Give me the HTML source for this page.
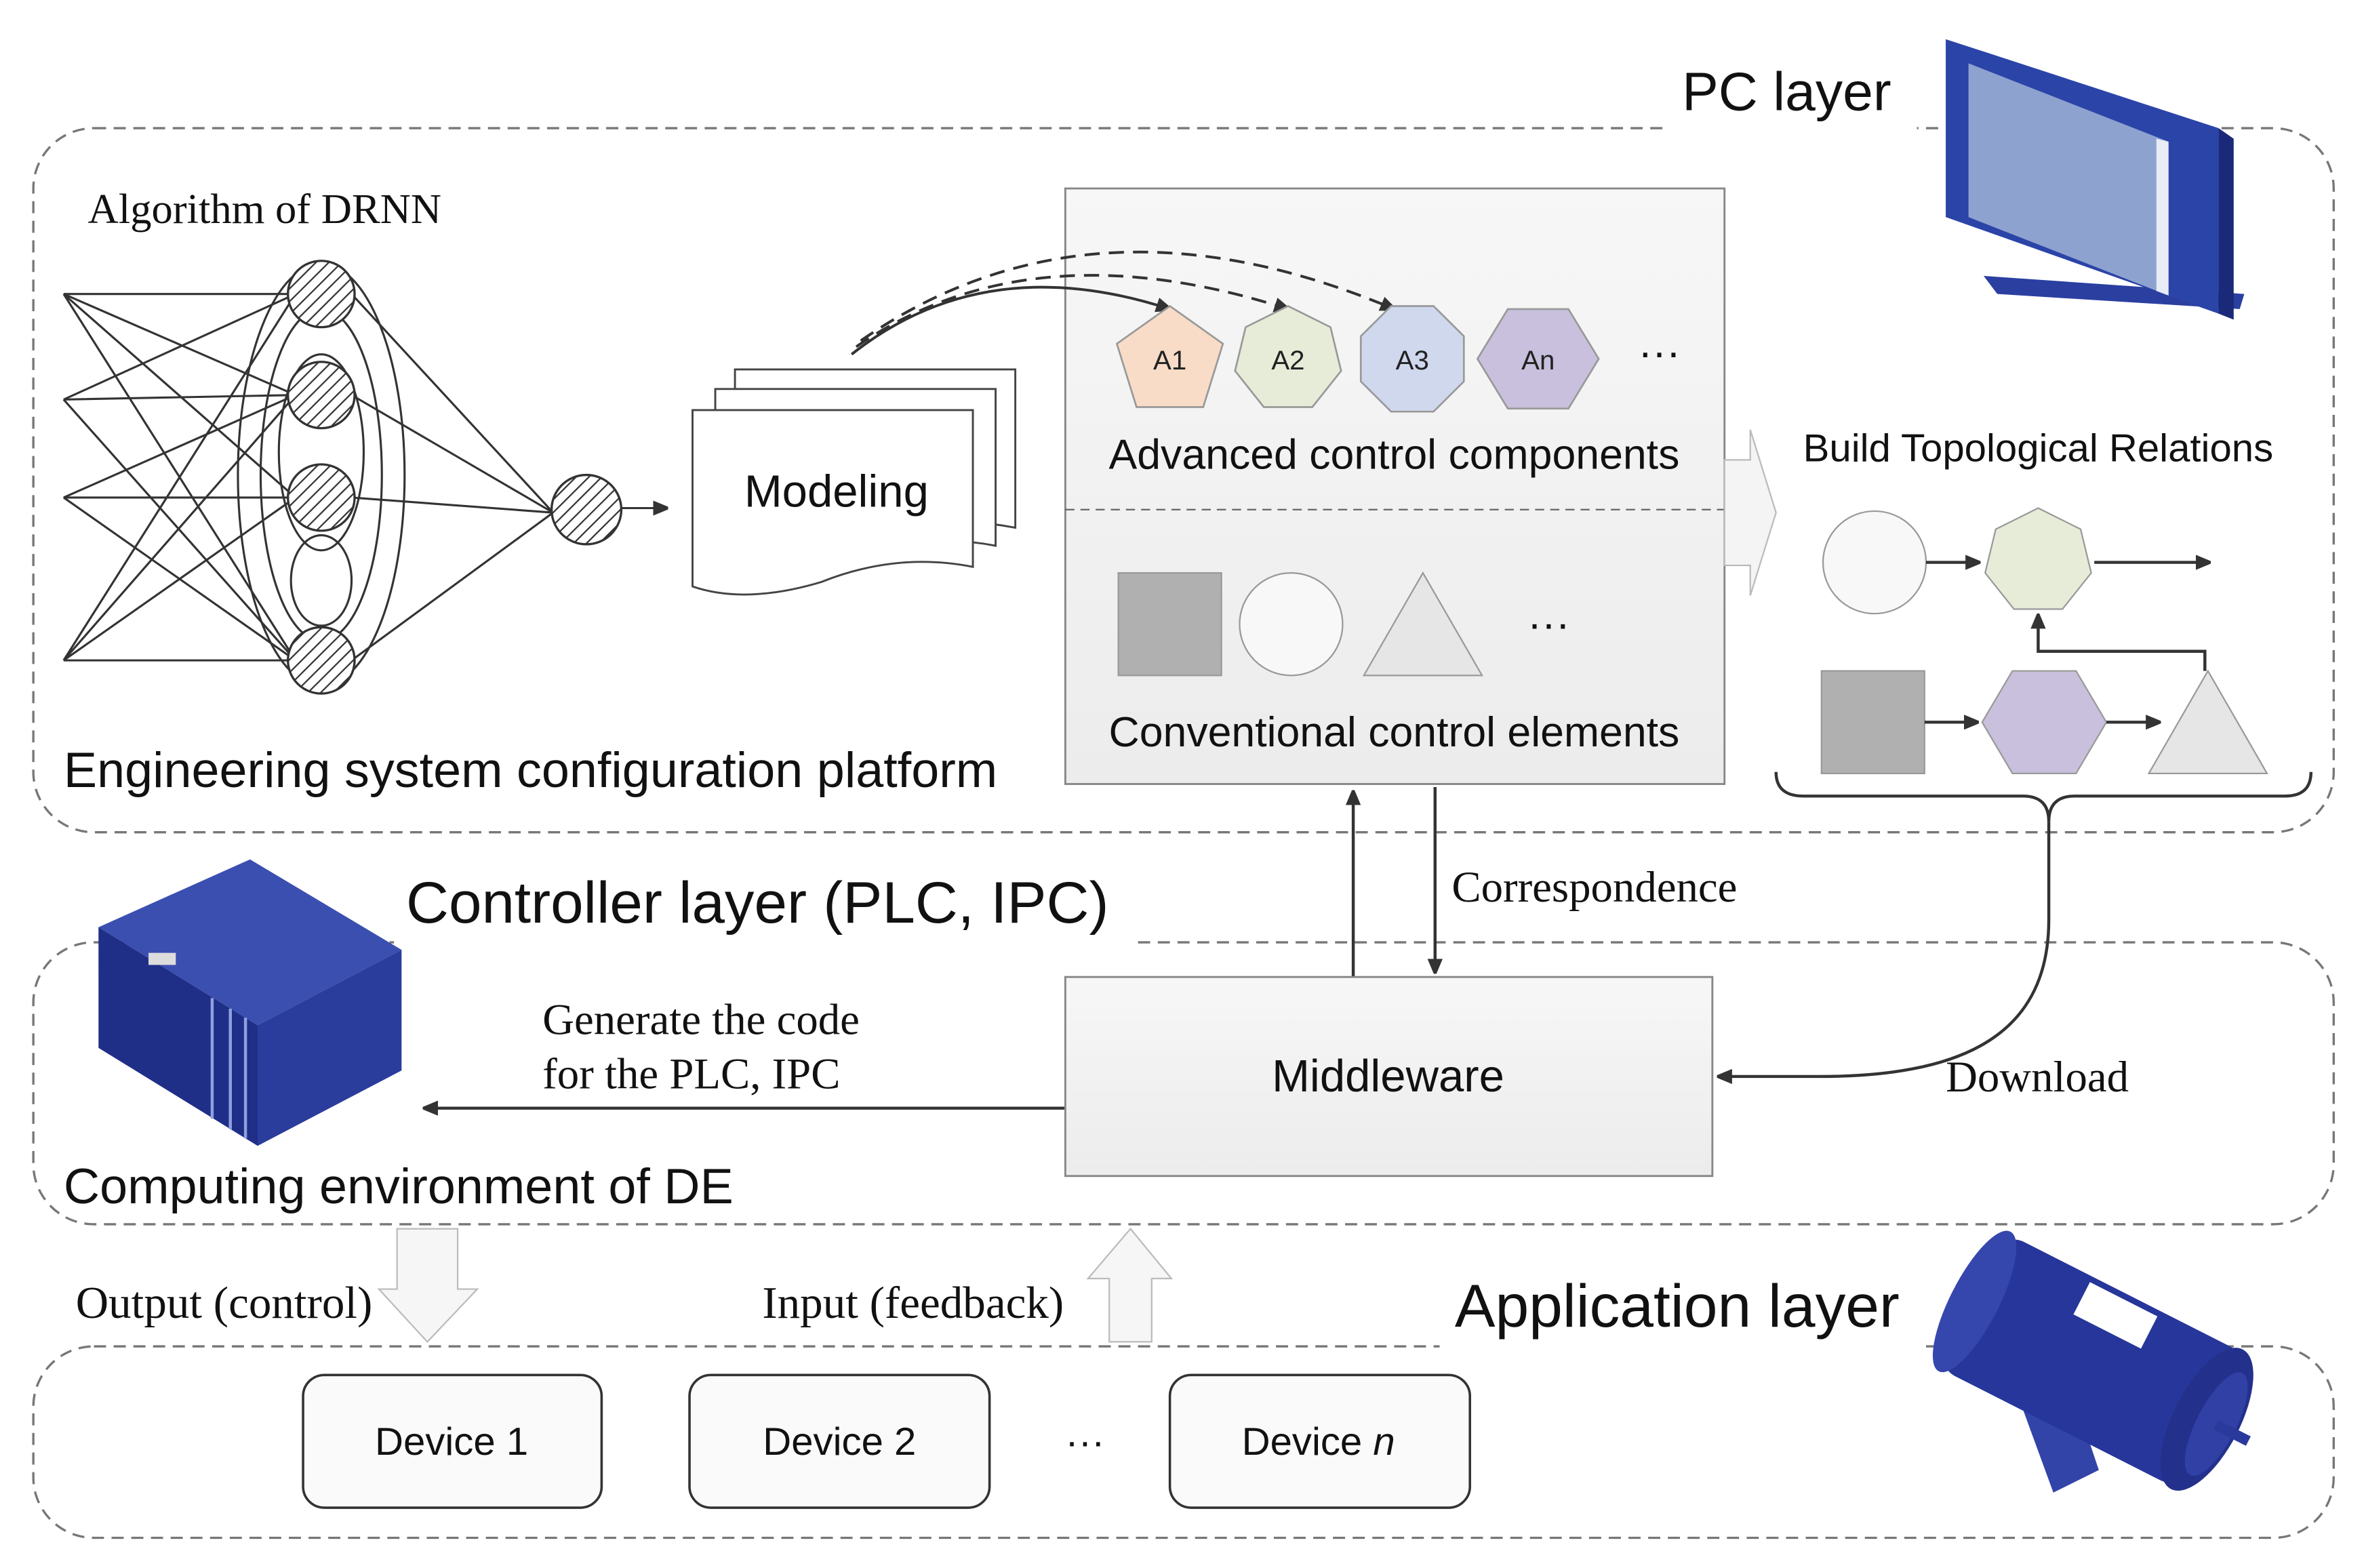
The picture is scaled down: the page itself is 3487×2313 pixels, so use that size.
<!DOCTYPE html>
<html><head><meta charset="utf-8"><style>
html,body{margin:0;padding:0;background:#fff}
svg{display:block}
.sans{font-family:"Liberation Sans","DejaVu Sans",sans-serif}
.serif{font-family:"Liberation Serif",serif}
</style></head><body>
<svg width="3487" height="2313" viewBox="0 0 1560 1040" preserveAspectRatio="none" xmlns="http://www.w3.org/2000/svg">
<defs>
<marker id="ah" markerWidth="10" markerHeight="10" refX="9" refY="5" orient="auto" markerUnits="userSpaceOnUse"><path d="M0,0 L12,5 L0,10 z" fill="#333"/></marker>
<pattern id="hatch" width="6" height="6" patternUnits="userSpaceOnUse" patternTransform="rotate(45)"><rect width="6" height="6" fill="#fff"/><line x1="0" y1="0" x2="0" y2="6" stroke="#333" stroke-width="2"/></pattern>
<linearGradient id="gbox" x1="0" y1="0" x2="0" y2="1"><stop offset="0" stop-color="#f7f7f7"/><stop offset="1" stop-color="#ececec"/></linearGradient>
</defs>
<rect width="1560" height="1040" fill="#fff"/>
<!-- layers -->
<rect x="22" y="85" width="1518" height="467" rx="40" fill="none" stroke="#777" stroke-width="1.5" stroke-dasharray="8,5"/>
<rect x="22" y="625" width="1518" height="187" rx="40" fill="none" stroke="#777" stroke-width="1.5" stroke-dasharray="8,5"/>
<rect x="22" y="893" width="1518" height="127" rx="40" fill="none" stroke="#777" stroke-width="1.5" stroke-dasharray="8,5"/>
<rect x="1100" y="40" width="165" height="50" fill="#fff"/>
<text x="1110" y="73" class="sans" font-size="36" fill="#111">PC layer</text>
<rect x="260" y="575" width="490" height="55" fill="#fff"/>
<text x="268" y="612" class="sans" font-size="39" fill="#111">Controller  layer (PLC, IPC)</text>
<rect x="950" y="845" width="320" height="55" fill="#fff"/>
<text x="960" y="880" class="sans" font-size="40" fill="#111">Application layer</text>

<!-- monitor -->
<g>
<polygon points="1309,183 1481,195 1478,205 1318,195" fill="#2a3fa0"/>
<polygon points="1284,26 1464,85 1464,208 1284,144" fill="#2b44a8"/>
<polygon points="1464,85 1474,92 1474,212 1464,208" fill="#1a2a78"/>
<polygon points="1299,42 1431,94 1431,196 1299,144" fill="#8ea2cf"/>
<polygon points="1423,92 1431,94 1431,196 1423,193" fill="#e8ecf6"/>
</g>

<!-- DRNN -->
<text x="58" y="148" class="serif" font-size="28" fill="#111">Algorithm of DRNN</text>
<g stroke="#333" stroke-width="1.4" fill="none">
<path d="M42,195 L195,195 M42,265 L195,262 M42,330 L195,330 M42,438 L195,438"/>
<path d="M42,195 L195,262 M42,195 L195,330 M42,265 L195,195 M42,265 L195,438 M42,330 L195,262 M42,330 L195,438 M42,438 L195,330 M42,438 L195,262 M42,195 L195,438 M42,438 L195,195"/>
<ellipse cx="212" cy="315" rx="55" ry="140"/>
<ellipse cx="212" cy="315" rx="40" ry="110"/>
<ellipse cx="212" cy="300" rx="28" ry="65"/>
<ellipse cx="212" cy="385" rx="20" ry="30"/>
<path d="M232,195 L365,340 M232,262 L365,340 M232,330 L365,340 M232,438 L365,340"/>
<path d="M410,337 L440,337" marker-end="url(#ah)"/>
</g>
<g stroke="#333" stroke-width="1.5" fill="url(#hatch)">
<circle cx="212" cy="195" r="22"/><circle cx="212" cy="262" r="22"/><circle cx="212" cy="330" r="22"/><circle cx="212" cy="438" r="22"/><circle cx="387" cy="338" r="23"/>
</g>
<text x="42" y="522" class="sans" font-size="33" fill="#111">Engineering system configuration platform</text>

<!-- Modeling -->
<g stroke="#444" stroke-width="1.3" fill="#fff">
<path d="M485,245 L670,245 L670,350 Q620,340 570,360 Q520,375 485,362 z"/>
<path d="M472,258 L657,258 L657,362 Q607,352 557,372 Q507,387 472,375 z"/>
<path d="M457,272 L642,272 L642,376 Q592,366 542,386 Q492,401 457,389 z"/>
</g>
<text x="552" y="336" class="sans" font-size="30" text-anchor="middle" fill="#111">Modeling</text>

<!-- components box -->
<rect x="703" y="125" width="435" height="395" fill="url(#gbox)" stroke="#888" stroke-width="1.3"/>
<line x1="703" y1="338" x2="1138" y2="338" stroke="#666" stroke-dasharray="6,4"/>
<g stroke="#333" stroke-width="1.8" fill="none">
<path d="M562,235 Q650,165 772,205" marker-end="url(#ah)"/>
<path d="M565,230 Q680,150 850,205" stroke-dasharray="10,6" marker-end="url(#ah)"/>
<path d="M568,226 Q720,120 920,205" stroke-dasharray="10,6" marker-end="url(#ah)"/>
</g>
<g stroke="#999" stroke-width="1.2">
<polygon points="772,203 807,228 794,270 750,270 737,228" fill="#f8dcc8"/>
<polygon points="850,203 878,217 885,246 866,270 834,270 815,246 822,217" fill="#e6ecd8"/>
<polygon points="918,203 946,203 966,223 966,253 946,273 918,273 898,253 898,223" fill="#d0d8ee"/>
<polygon points="995,205 1035,205 1055,238 1035,271 995,271 975,238" fill="#c8c0dc"/>
</g>
<g class="sans" font-size="18" text-anchor="middle" fill="#222">
<text x="772" y="245">A1</text><text x="850" y="245">A2</text><text x="932" y="245">A3</text><text x="1015" y="245">An</text>
</g>
<text x="1095" y="243" class="sans" font-size="28" text-anchor="middle" fill="#111">···</text>
<text x="920" y="311" class="sans" font-size="28" text-anchor="middle" fill="#111">Advanced control components</text>
<rect x="738" y="380" width="68" height="68" fill="#b0b0b0" stroke="#999"/>
<circle cx="852" cy="414" r="34" fill="#f8f8f8" stroke="#999"/>
<polygon points="939,380 978,448 900,448" fill="#e6e6e6" stroke="#999"/>
<text x="1022" y="423" class="sans" font-size="28" text-anchor="middle" fill="#111">···</text>
<text x="920" y="495" class="sans" font-size="28" text-anchor="middle" fill="#111">Conventional control elements</text>

<!-- big hollow arrow right -->
<polygon points="1138,305 1155,305 1155,285 1172,340 1155,395 1155,375 1138,375" fill="#f4f4f4" stroke="#bbb"/>

<!-- topology -->
<text x="1345" y="306" class="sans" font-size="26" text-anchor="middle" fill="#111">Build Topological Relations</text>
<circle cx="1237" cy="373" r="34" fill="#f8f8f8" stroke="#999"/>
<polygon points="1345,337 1373,351 1380,380 1361,404 1329,404 1310,380 1317,351" fill="#e6ecd8" stroke="#999"/>
<rect x="1202" y="445" width="68" height="68" fill="#b0b0b0" stroke="#999"/>
<polygon points="1328,445 1370,445 1390,479 1370,513 1328,513 1308,479" fill="#c8c0dc" stroke="#999"/>
<polygon points="1457,445 1496,513 1418,513" fill="#e6e6e6" stroke="#999"/>
<g stroke="#333" stroke-width="2" fill="none">
<path d="M1271,373 L1306,373" marker-end="url(#ah)"/>
<path d="M1382,373 L1458,373" marker-end="url(#ah)"/>
<path d="M1270,479 L1305,479" marker-end="url(#ah)"/>
<path d="M1390,479 L1425,479" marker-end="url(#ah)"/>
<path d="M1455,445 L1455,432 L1345,432 L1345,408" marker-end="url(#ah)"/>
<path d="M1172,512 Q1172,528 1190,528 L1335,528 Q1352,528 1352,545 Q1352,528 1369,528 L1508,528 Q1525,528 1525,512"/>
<path d="M1352,545 L1352,610 C1352,690 1290,714 1200,714 L1134,714" marker-end="url(#ah)"/>
<path d="M893,648 L893,525" marker-end="url(#ah)"/>
<path d="M947,522 L947,645" marker-end="url(#ah)"/>
<path d="M703,735 L280,735" marker-end="url(#ah)"/>
</g>
<text x="958" y="598" class="serif" font-size="29" fill="#111">Correspondence</text>
<text x="1284" y="724" class="serif" font-size="29" fill="#111">Download</text>
<text x="358" y="686" class="serif" font-size="29" fill="#111">Generate the code</text>
<text x="358" y="722" class="serif" font-size="29" fill="#111">for the PLC, IPC</text>

<!-- middleware -->
<rect x="703" y="648" width="427" height="132" fill="url(#gbox)" stroke="#888" stroke-width="1.3"/>
<text x="916" y="724" class="sans" font-size="30" text-anchor="middle" fill="#111">Middleware</text>

<!-- PLC -->
<g>
<polygon points="65,615 165,570 265,630 170,680" fill="#3b4fb0"/>
<polygon points="65,615 170,680 170,760 65,695" fill="#1f2f88"/>
<polygon points="170,680 265,630 265,710 170,760" fill="#2a3c9c"/>
<g stroke="#8fa0e0" stroke-width="2">
<line x1="140" y1="662" x2="140" y2="742"/><line x1="152" y1="669" x2="152" y2="749"/><line x1="162" y1="675" x2="162" y2="755"/>
</g>
<rect x="98" y="632" width="18" height="8" fill="#ddd"/>
</g>
<text x="42" y="798" class="sans" font-size="33" fill="#111">Computing environment of DE</text>

<!-- hollow arrows -->
<polygon points="262,815 302,815 302,855 315,855 282,890 250,855 262,855" fill="#f6f6f6" stroke="#bbb"/>
<polygon points="732,890 760,890 760,848 773,848 746,815 718,848 732,848" fill="#f6f6f6" stroke="#bbb"/>
<text x="50" y="874" class="serif" font-size="30" fill="#111">Output (control)</text>
<text x="503" y="874" class="serif" font-size="30" fill="#111">Input (feedback)</text>

<!-- devices -->
<g fill="#fafafa" stroke="#333" stroke-width="1.6">
<rect x="200" y="912" width="197" height="88" rx="14"/>
<rect x="455" y="912" width="198" height="88" rx="14"/>
<rect x="772" y="912" width="198" height="88" rx="14"/>
</g>
<g class="sans" font-size="26" text-anchor="middle" fill="#111">
<text x="298" y="965">Device 1</text>
<text x="554" y="965">Device 2</text>
<text x="870" y="965">Device <tspan font-style="italic">n</tspan></text>
<text x="716" y="965">···</text>
</g>

<!-- motor -->
<polygon points="1335,935 1365,915 1385,975 1355,990" fill="#3244a8"/>
<g transform="translate(1385,905) rotate(27)">
<rect x="-95" y="-50" width="180" height="100" rx="14" fill="#27369a"/>
<ellipse cx="-92" cy="0" rx="16" ry="52" fill="#3546ad"/>
<ellipse cx="80" cy="0" rx="22" ry="52" fill="#24318c"/>
<ellipse cx="87" cy="0" rx="13" ry="38" fill="#3040a5"/>
<rect x="87" y="-3" width="24" height="7" fill="#2a3a9c"/>
<rect x="-30" y="-46" width="50" height="24" fill="#fff"/>
</g>
</svg>
</body></html>
